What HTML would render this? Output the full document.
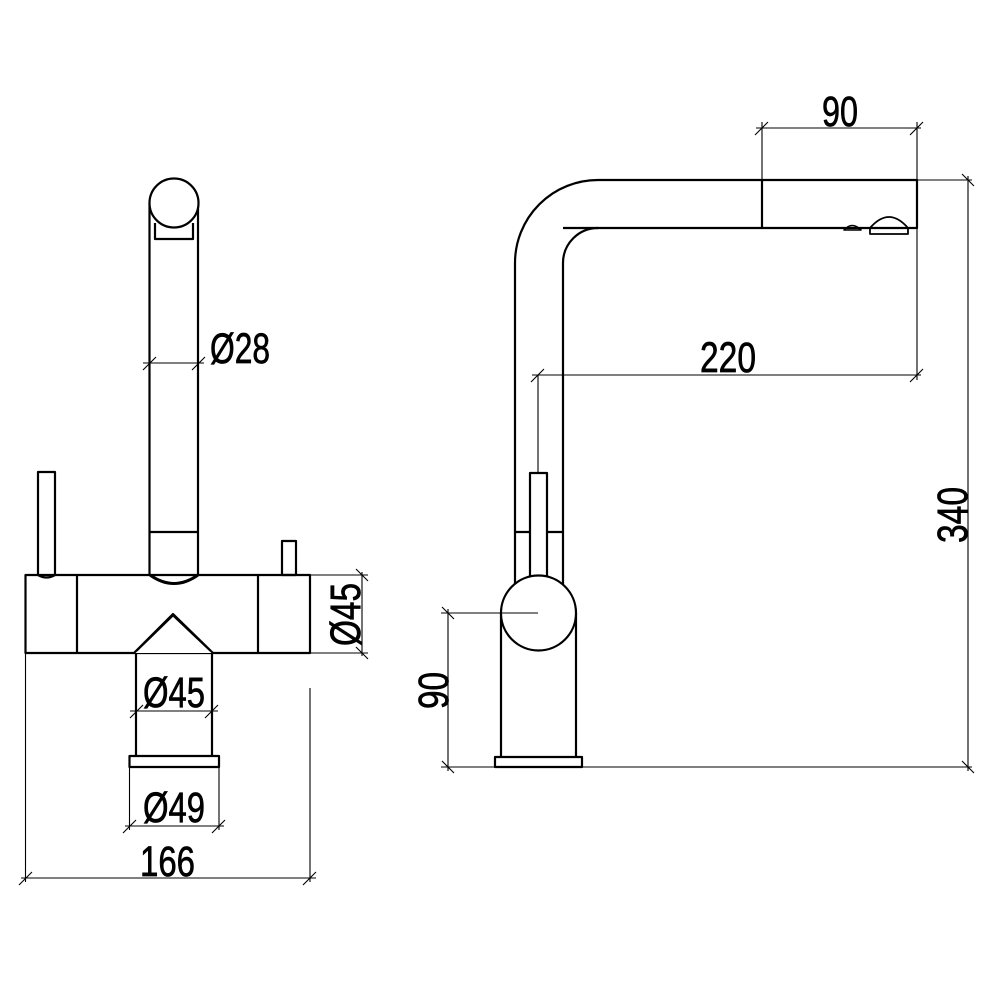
<!DOCTYPE html>
<html><head><meta charset="utf-8"><style>html,body{margin:0;padding:0;background:#fff}svg{display:block}</style></head>
<body>
<svg width="1000" height="1000" viewBox="0 0 1000 1000" xmlns="http://www.w3.org/2000/svg">
<rect width="1000" height="1000" fill="#fff"/>
<g fill="none" stroke="#000" stroke-width="2.2" stroke-linejoin="round">
  <line x1="149.5" y1="203" x2="149.5" y2="575"/>
  <line x1="198" y1="203" x2="198" y2="575"/>
  <circle cx="174" cy="203" r="24.5" fill="#fff"/>
  <polyline points="155,223 155,239 193,239 193,223"/>
  <line x1="149.5" y1="532" x2="198" y2="532"/>
  <path d="M150,575 Q174,592 198,575" stroke-width="3"/>
  <path d="M38,575 L38,472 L55,472 L55,575 Q46.5,580 38,575"/>
  <rect x="282" y="541" width="14" height="34"/>
  <rect x="25.5" y="575" width="284.5" height="78"/>
  <line x1="77" y1="575" x2="77" y2="653"/>
  <line x1="258" y1="575" x2="258" y2="653"/>
  <path d="M136,653 L136,756 M212,653 L212,756"/>
  <path d="M134,653 L173,614 L213,653" fill="#fff"/>
  <path d="M137,651 L173,616 L210,651" stroke-width="1.2"/>
  <rect x="129.5" y="756" width="89.5" height="11" fill="#fff"/>
  <path d="M515,585 L515,263 A83,83 0 0 1 598,180 L917,180 L917,228 L563,228"/>
  <path d="M563,585 L563,263 A35,35 0 0 1 598,228"/>
  <line x1="762" y1="180" x2="762" y2="228"/>
  <path d="M844,230 Q852,221 861,230 Z" stroke-width="1.6"/>
  <path d="M870,234 L870,228 Q889,206 908,228 L908,234 Z" stroke-width="1.8"/>
  <rect x="530" y="473" width="17" height="104" fill="#fff"/>
  <path d="M515,532 L530,532 M547,532 L563,532"/>
  <path d="M501,613 L501,757 M576,613 L576,757"/>
  <circle cx="538.5" cy="613" r="37.5" fill="#fff"/>
  <rect x="495" y="757" width="87" height="10" fill="#fff"/>
</g>
<g fill="none" stroke="#000" stroke-width="1.1">
  <line x1="143" y1="363" x2="204" y2="363"/>
  <path d="M143,370 L156,357 M192,370 L205,357"/>
  <line x1="310" y1="575" x2="368" y2="575"/>
  <line x1="310" y1="653" x2="368" y2="653"/>
  <line x1="362" y1="572" x2="362" y2="656"/>
  <path d="M356,569 L368,581 M356,647 L368,659"/>
  <line x1="130" y1="711" x2="218" y2="711"/>
  <path d="M130,718 L143,705 M205,718 L218,705"/>
  <line x1="129.5" y1="767" x2="129.5" y2="830"/>
  <line x1="219" y1="767" x2="219" y2="830"/>
  <line x1="125" y1="826" x2="224" y2="826"/>
  <path d="M123,833 L136,820 M212,833 L225,820"/>
  <line x1="25.5" y1="653" x2="25.5" y2="882"/>
  <line x1="310" y1="688" x2="310" y2="882"/>
  <line x1="21" y1="878" x2="316" y2="878"/>
  <path d="M19,885 L32,872 M303,885 L316,872"/>
  <line x1="762" y1="122" x2="762" y2="180"/>
  <line x1="917" y1="122" x2="917" y2="180"/>
  <line x1="756" y1="128" x2="921" y2="128"/>
  <path d="M755,135 L768,122 M910,135 L923,122"/>
  <line x1="917" y1="228" x2="917" y2="380"/>
  <line x1="532" y1="375" x2="921" y2="375"/>
  <path d="M531,382 L544,369 M910,382 L923,369"/>
  <line x1="538" y1="375" x2="538" y2="473"/>
  <line x1="917" y1="180" x2="972" y2="180"/>
  <line x1="968" y1="176" x2="968" y2="771"/>
  <path d="M962,174 L974,186 M962,761 L974,773"/>
  <line x1="441" y1="613" x2="538" y2="613"/>
  <line x1="448" y1="609" x2="448" y2="771"/>
  <path d="M442,607 L454,619 M442,761 L454,773"/>
  <line x1="441" y1="767" x2="972" y2="767"/>
</g>
<g font-family="Liberation Sans, sans-serif" font-size="43" fill="#000" stroke="#000" stroke-width="0.7">
  <text x="210" y="363" textLength="60" lengthAdjust="spacingAndGlyphs">Ø28</text>
  <text x="143" y="707" textLength="62" lengthAdjust="spacingAndGlyphs">Ø45</text>
  <text x="143" y="822" textLength="62" lengthAdjust="spacingAndGlyphs">Ø49</text>
  <text x="140" y="876" textLength="55" lengthAdjust="spacingAndGlyphs">166</text>
  <text x="822" y="126" textLength="36" lengthAdjust="spacingAndGlyphs">90</text>
  <text x="700" y="372" textLength="56" lengthAdjust="spacingAndGlyphs">220</text>
  <text transform="translate(360,646) rotate(-90)" textLength="63" lengthAdjust="spacingAndGlyphs">Ø45</text>
  <text transform="translate(448,709) rotate(-90)" textLength="37" lengthAdjust="spacingAndGlyphs">90</text>
  <text transform="translate(967,543) rotate(-90)" textLength="56" lengthAdjust="spacingAndGlyphs">340</text>
</g>
</svg>
</body></html>
